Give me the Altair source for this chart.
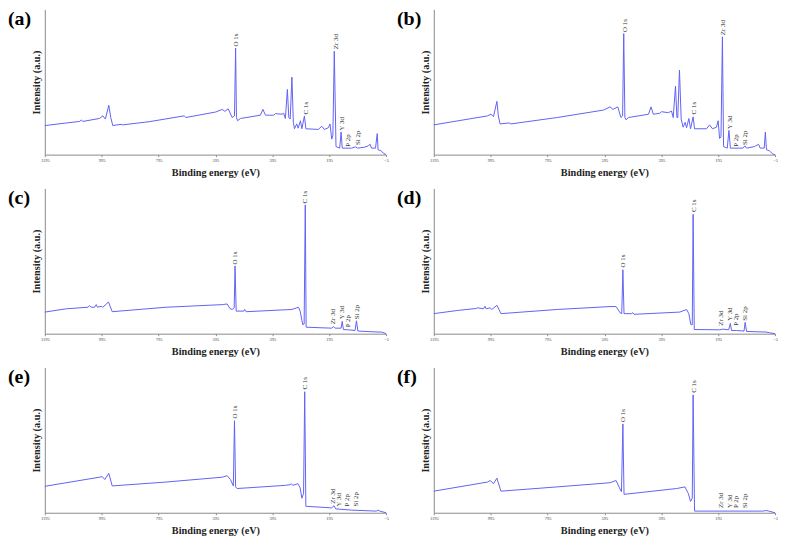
import altair as alt
import pandas as pd

XTICKS = [1195, 995, 795, 595, 395, 195, -5]
PEAKS = ["O 1s", "Zr 3d", "C 1s", "Y 3d", "P 2p", "Si 2p"]

a_be = [1195,1072,1067,1061,1003,991,982,970,963,956,927,921,828,705,699,594,571,562,550,536,528,524,521,517,507,437,428,419,390,384,361,355,349,342,337,332,326,321,317,309,304,296,291,282,277,233,221,212,198,192,186,182,177,171,158,153,149,116,102,95,70,58,51,46,32,26,23,13,5,-5]
a_int = [30,34.3,35.7,34.3,37.3,40,36.7,51,38.3,30,31.3,30.7,34,40,38.3,44,46.7,44.7,47.3,38.3,40,110,38.3,35,37.3,40.7,46.7,40.7,40.7,42.3,41.7,42.7,37.3,67.3,38.3,36.7,80,33.3,26.7,31.7,27.3,35,26.7,40,26.7,26,29.3,26,27.7,31.7,16,20,106.7,8.3,6.7,23.3,6.7,6.7,8,6.7,7.7,9,10.7,6.7,6.7,21.7,5,4,1.7,0]
a_lab_be = [522,172,277,151,130,95]
a_lab_int = [110,107.3,40,23.3,6.7,8.3]

b_be = [1195,1006,994,985,973,968,962,930,924,761,598,575,565,548,537,531,527,523,519,510,440,431,423,400,394,370,359,353,345,340,337,331,325,318,311,306,298,292,283,278,236,225,215,201,195,190,185,180,176,163,157,152,108,101,95,67,53,47,33,29,25,15,3,-5]
b_int = [30.7,40,41.7,39.3,55,40,31.7,32.7,31.7,38.3,46,49.3,46.7,49.3,38.3,40,125,38.3,36,38.3,41.7,49.3,41.7,42.7,44.3,43.3,45,38.3,70.7,38.3,38.3,87.3,36.7,28.3,33.3,27.7,37.3,26.7,39,26.7,26.7,30.7,26.7,28.3,35,16.7,18.3,121.7,8.3,6.7,25,6.7,6.7,9,6.7,8.3,10.7,6.7,6.7,23.3,5,4,0.7,0]
b_lab_be = [524,178,281,155,131,99]
b_lab_int = [125,121.7,40,25,6.7,8.3]

c_be = [1195,1119,1043,1038,1032,1020,1014,1010,997,991,971,958,769,571,554,544,536,529,526,522,495,492,487,326,303,297,288,283,279,276,186,180,174,153,149,145,128,104,99,94,23,11,-5]
c_int = [22.3,25.7,27.3,29,27.3,27.3,30,27.3,28.3,27.3,32.7,22.7,27.3,30,30.7,26,25,26.7,70,23.3,23.3,25,22.7,25,27.3,23.3,9.3,10,133,6.7,5.7,7.3,5.7,5.7,12.7,4.3,4,3.3,13.3,2.7,1.7,1.7,0]
c_lab_be = [526,180,279,151,130,96]
c_lab_int = [70,8.3,133,13.3,5,13.3]

d_be = [1195,1111,1047,1041,1020,1015,1011,997,991,973,959,761,575,554,540,534,530,526,499,495,491,330,306,298,291,286,283,279,190,178,158,152,148,131,104,100,95,26,15,-5]
d_int = [20.7,24,26,26.7,25.7,28.3,25.7,26.7,25,29.3,20.7,25,28,28,21.7,20.7,66,20.7,20.7,21.7,20,22.3,25,20.7,9.3,9.3,123.3,4.3,4,4.7,4,10.7,3.3,3.3,2.7,11.7,2.3,1.7,1,0]
d_lab_be = [528,184,281,155,131,99]
d_lab_int = [66.7,6.7,124,11.7,6.7,11.7]

e_be = [1195,1003,993,984,970,958,769,571,554,542,532,528,524,519,349,332,328,323,305,297,291,285,281,277,186,178,172,116,29,23,17,-5]
e_int = [27.3,36.7,37.3,34.3,40.7,27.7,31.7,36.7,38.3,34.3,27.7,95,26.7,25,28.3,29,30,28.3,30,25.7,15,20,125,6.7,5,7.3,4,2.7,1.7,2.7,1.7,0]
e_lab_be = [527,180,279,160,134,99]
e_lab_int = [95.7,7.7,125.7,5,5,5]

f_be = [1195,1006,997,985,973,959,761,575,554,542,535,530,526,341,312,300,292,286,283,278,178,38,26,17,-5]
f_int = [22.3,31.7,33.3,30,35.7,22.3,26.7,31,33.3,25.7,21.7,91.7,19,25,26.7,20,11.7,15,121.7,1.7,1.7,1.7,2.3,1.7,0]
f_lab_be = [528,184,281,155,131,99]
f_lab_int = [92.3,3.3,122.3,3.3,3.3,3.3]

SERIF = "Liberation Serif"
LINE = "#6262f5"


def panel(letter, be, inten, lab_be, lab_int):
    df = pd.DataFrame({"be": be, "int": inten, "i": list(range(len(be)))})
    ldf = pd.DataFrame({"be": lab_be, "int": lab_int, "name": PEAKS})
    xs = alt.Scale(domain=[1195, -5], nice=False, zero=False)
    ys = alt.Scale(domain=[0, 150], nice=False, zero=False)
    x = alt.X("be:Q", scale=xs,
              axis=alt.Axis(values=XTICKS, title="Binding energy (eV)", format="d"))
    y = alt.Y("int:Q", scale=ys, axis=alt.Axis(title="Intensity (a.u.)"))
    line = alt.Chart(df).mark_line(color=LINE, strokeWidth=1, interpolate="linear").encode(
        x=x, y=y, order="i:Q")
    labels = alt.Chart(ldf).mark_text(
        angle=270, align="left", baseline="middle", dx=1.5,
        font=SERIF, fontSize=7, color="#333333").encode(
        x=alt.X("be:Q", scale=xs), y=alt.Y("int:Q", scale=ys), text="name:N")
    tag = alt.Chart(pd.DataFrame({"t": [letter]})).mark_text(
        align="left", baseline="top", font=SERIF, fontSize=20, fontWeight="bold",
        color="#000000").encode(x=alt.value(-37), y=alt.value(0), text="t:N")
    return alt.layer(line, labels, tag).properties(width=343, height=146)


rows = [
    alt.hconcat(panel("(a)", a_be, a_int, a_lab_be, a_lab_int),
                panel("(b)", b_be, b_int, b_lab_be, b_lab_int), spacing=8),
    alt.hconcat(panel("(c)", c_be, c_int, c_lab_be, c_lab_int),
                panel("(d)", d_be, d_int, d_lab_be, d_lab_int), spacing=8),
    alt.hconcat(panel("(e)", e_be, e_int, e_lab_be, e_lab_int),
                panel("(f)", f_be, f_int, f_lab_be, f_lab_int), spacing=8),
]

chart = alt.vconcat(*rows, spacing=11).properties(padding=0).configure_view(
    stroke=None).configure_axis(
    grid=False, domainColor="#8a8a8a", domainWidth=1, tickColor="#8a8a8a",
    titleFont=SERIF, titleFontSize=10.3, titleFontWeight="bold", titleColor="#222222",
    labelFont=SERIF, labelColor="#444444").configure_axisX(
    tickSize=2, labelFontSize=4.5, labelPadding=1, labelFlush=False, titlePadding=5
).configure_axisY(labels=False, ticks=False, titlePadding=3)

chart.save("out.html", embed_options={"renderer": "svg", "actions": False})
